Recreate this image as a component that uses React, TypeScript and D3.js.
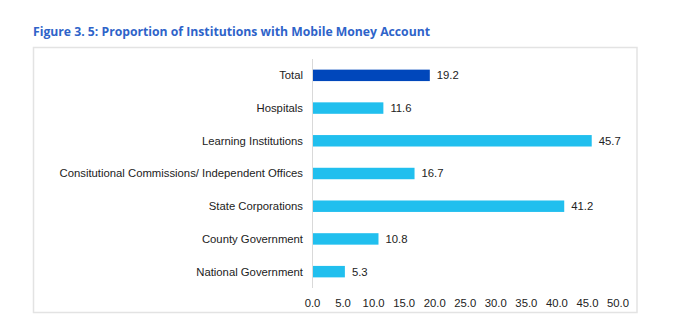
import React from "react";
import * as d3 from "d3";

const categories = [
  "Total",
  "Hospitals",
  "Learning Institutions",
  "Consitutional Commissions/ Independent Offices",
  "State Corporations",
  "County Government",
  "National Government",
];
const values = [19.2, 11.6, 45.7, 16.7, 41.2, 10.8, 5.3];
const ticks = [0, 5, 10, 15, 20, 25, 30, 35, 40, 45, 50];
const title = "Figure 3. 5: Proportion of Institutions with Mobile Money Account";

export default function App() {
  const W = 677, H = 332;
  const x = d3.scaleLinear().domain([0, 50]).range([312.5, 618]);
  const y = d3.scaleBand<string>().domain(categories).range([59, 288]).paddingInner(0.65).paddingOuter(0.325);
  const font = "'Liberation Sans', Arial, sans-serif";
  return (
    <svg width={W} height={H} style={{ position: "absolute", left: 0, top: 0, background: "#fff" }}>
      <text x={33} y={35.5} fontFamily="'Open Sans', sans-serif" fontWeight={700} fontSize={12.2} fill="#2e63c9" textLength={397} lengthAdjust="spacingAndGlyphs">
        {title}
      </text>
      <rect x={33.5} y={47.5} width={603.5} height={265} fill="#fff" stroke="#e3e3e3" strokeWidth={1.5} />
      <line x1={x(0)} x2={x(0)} y1={59} y2={288} stroke="#d9d9d9" strokeWidth={1} />
      {categories.map((c, i) => (
        <g key={c}>
          <rect
            x={x(0) + 0.5}
            y={y(c)!}
            width={x(values[i]) - x(0) - 0.5}
            height={y.bandwidth()}
            fill={i === 0 ? "#0047bb" : "#21bfee"}
          />
          <text x={303} y={y(c)! + y.bandwidth() / 2} dy="0.35em" textAnchor="end" fontFamily={font} fontSize={11.3} fill="#222">
            {c}
          </text>
          <text x={x(values[i]) + 7} y={y(c)! + y.bandwidth() / 2} dy="0.35em" fontFamily={font} fontSize={11.3} fill="#222">
            {values[i].toFixed(1)}
          </text>
        </g>
      ))}
      {ticks.map((t) => (
        <text key={t} x={x(t)} y={303} dy="0.35em" textAnchor="middle" fontFamily={font} fontSize={11.3} fill="#222">
          {t.toFixed(1)}
        </text>
      ))}
    </svg>
  );
}
